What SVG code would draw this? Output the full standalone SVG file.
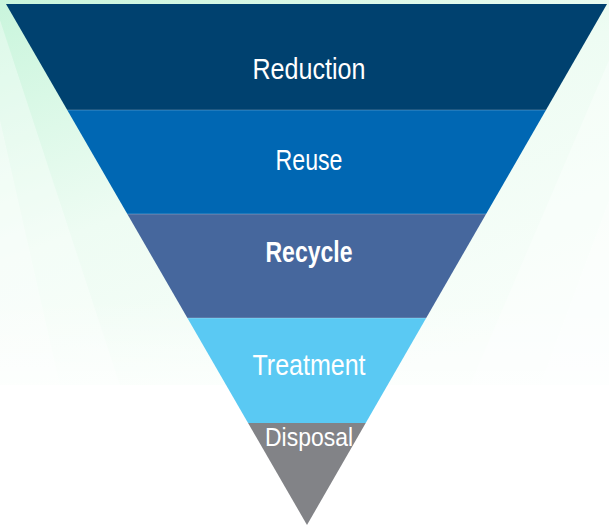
<svg xmlns="http://www.w3.org/2000/svg" width="609" height="528" viewBox="0 0 609 528">
<defs>
<linearGradient id="bg" x1="0" y1="0" x2="0.6" y2="1">
<stop offset="0" stop-color="#c9f5dc"/>
<stop offset="0.5" stop-color="#eefcf3"/>
<stop offset="1" stop-color="#f8fefa"/>
</linearGradient>
<linearGradient id="fade" x1="0" y1="0" x2="0" y2="1">
<stop offset="0" stop-color="#ffffff" stop-opacity="0"/>
<stop offset="1" stop-color="#ffffff" stop-opacity="1"/>
</linearGradient>
<clipPath id="tri"><polygon points="6,4 607,4 307,525"/></clipPath>
</defs>
<style>
.lbl{font-family:"Liberation Sans",Arial,sans-serif;fill:#ffffff;text-anchor:middle}
.sep{stroke:#ffffff;stroke-opacity:0.25;stroke-width:1}
</style>
<rect x="0" y="0" width="609" height="528" fill="#ffffff"/>
<rect x="0" y="0" width="609" height="385" fill="url(#bg)"/>
<polygon points="0,20 0,385 120,385" fill="#ffffff" opacity="0.35"/>
<polygon points="0,120 0,385 60,385" fill="#ffffff" opacity="0.3"/>
<polygon points="609,60 609,385 470,385" fill="#ffffff" opacity="0.35"/>
<polygon points="609,200 609,385 540,385" fill="#ffffff" opacity="0.3"/>
<rect x="0" y="300" width="609" height="85" fill="url(#fade)" opacity="0.6"/>
<g clip-path="url(#tri)">
<g id="reduction">
<rect x="0" y="4" width="609" height="106" fill="#00416f"/>
<text class="lbl" x="309" y="79" font-size="29" textLength="113" lengthAdjust="spacingAndGlyphs">Reduction</text>
</g>
<g id="reuse">
<rect x="0" y="110" width="609" height="104" fill="#0067b3"/>
<text class="lbl" x="309" y="170" font-size="29" textLength="67" lengthAdjust="spacingAndGlyphs">Reuse</text>
</g>
<g id="recycle">
<rect x="0" y="214" width="609" height="104" fill="#46679d"/>
<text class="lbl" x="309" y="262" font-size="29" font-weight="bold" textLength="87" lengthAdjust="spacingAndGlyphs">Recycle</text>
</g>
<g id="treatment">
<rect x="0" y="318" width="609" height="105" fill="#5ac9f3"/>
<text class="lbl" x="309" y="375" font-size="29" textLength="113" lengthAdjust="spacingAndGlyphs">Treatment</text>
</g>
<g id="disposal">
<rect x="0" y="423" width="609" height="105" fill="#828387"/>
</g>
<g id="connectors">
<line class="sep" x1="0" y1="110" x2="609" y2="110"/>
<line class="sep" x1="0" y1="214" x2="609" y2="214"/>
<line class="sep" x1="0" y1="318" x2="609" y2="318"/>
</g>
</g>
<text class="lbl" x="309" y="446" font-size="25" textLength="88" lengthAdjust="spacingAndGlyphs">Disposal</text>
</svg>
